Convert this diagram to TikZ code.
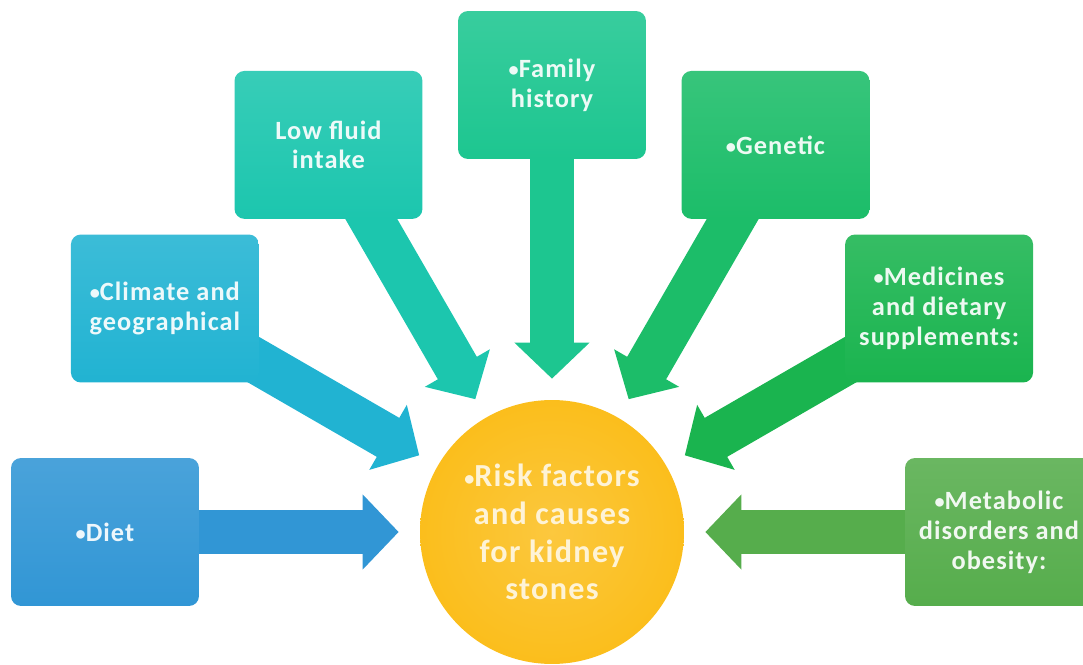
\documentclass[tikz,border=0pt]{standalone}
\usepackage{fontspec}
\setmainfont{Carlito}[LetterSpace=4]
\usetikzlibrary{arrows.meta,backgrounds}

\definecolor{dietblue}{HTML}{3196D5}
\definecolor{climcyan}{HTML}{21B3D2}
\definecolor{fluidteal}{HTML}{1CC6AE}
\definecolor{familygreen}{HTML}{1DC690}
\definecolor{genegreen}{HTML}{1CBD69}
\definecolor{medgreen}{HTML}{1AB44F}
\definecolor{metagreen}{HTML}{56AD4C}
\definecolor{hubyellow}{HTML}{FBBE1C}

\newcommand{\bul}{{\fontsize{11.5}{11.5}\selectfont\raisebox{0.5pt}{•}}}

\tikzset{
  factor/.style={rounded corners=0.2cm, minimum width=3.76cm, minimum height=2.96cm,
    align=center, inner sep=2pt, font=\bfseries\fontsize{15}{17}\selectfont},
  fatarrow/.style={line width=0.9cm, -{Triangle[width=1.46cm,length=0.72cm]}, shorten >=0.42cm},
}

\begin{document}
\begin{tikzpicture}[x=0.02cm,y=0.02cm]
  \useasboundingbox (-552,-132) rectangle (531,532);
  % centre
  \node[circle, minimum size=5.28cm, inner color=hubyellow!85!white, outer color=hubyellow,
    text=white!82!hubyellow, align=center, font=\bfseries\fontsize{18.3}{21.5}\selectfont] (hub) at (0,0)
    {\bul Risk factors\\and causes\\for kidney\\stones};
  % the seven factors, every 30 degrees
  \foreach \ang/\name/\col/\txt in {180/diet/dietblue/{\bul Diet},
      150/climate/climcyan/{\bul Climate and\\geographical},
      120/fluid/fluidteal/{Low fluid\\intake},
      90/family/familygreen/{\bul Family\\history},
      60/genetic/genegreen/{\bul Genetic},
      30/medicine/medgreen/{\bul Medicines\\and dietary\\supplements:},
      0/metabolic/metagreen/{\bul Metabolic\\disorders and\\obesity:}} {
    \node[factor, top color=\col!88!white, bottom color=\col, text=white!92!\col] (\name) at (\ang:447) {\txt};
  }
  \begin{scope}[on background layer]
    \foreach \name/\col in {diet/dietblue, climate/climcyan, fluid/fluidteal, family/familygreen,
        genetic/genegreen, medicine/medgreen, metabolic/metagreen} {
      \draw[fatarrow, color=\col] (\name.center) -- (hub);
    }
  \end{scope}
\end{tikzpicture}
\end{document}
